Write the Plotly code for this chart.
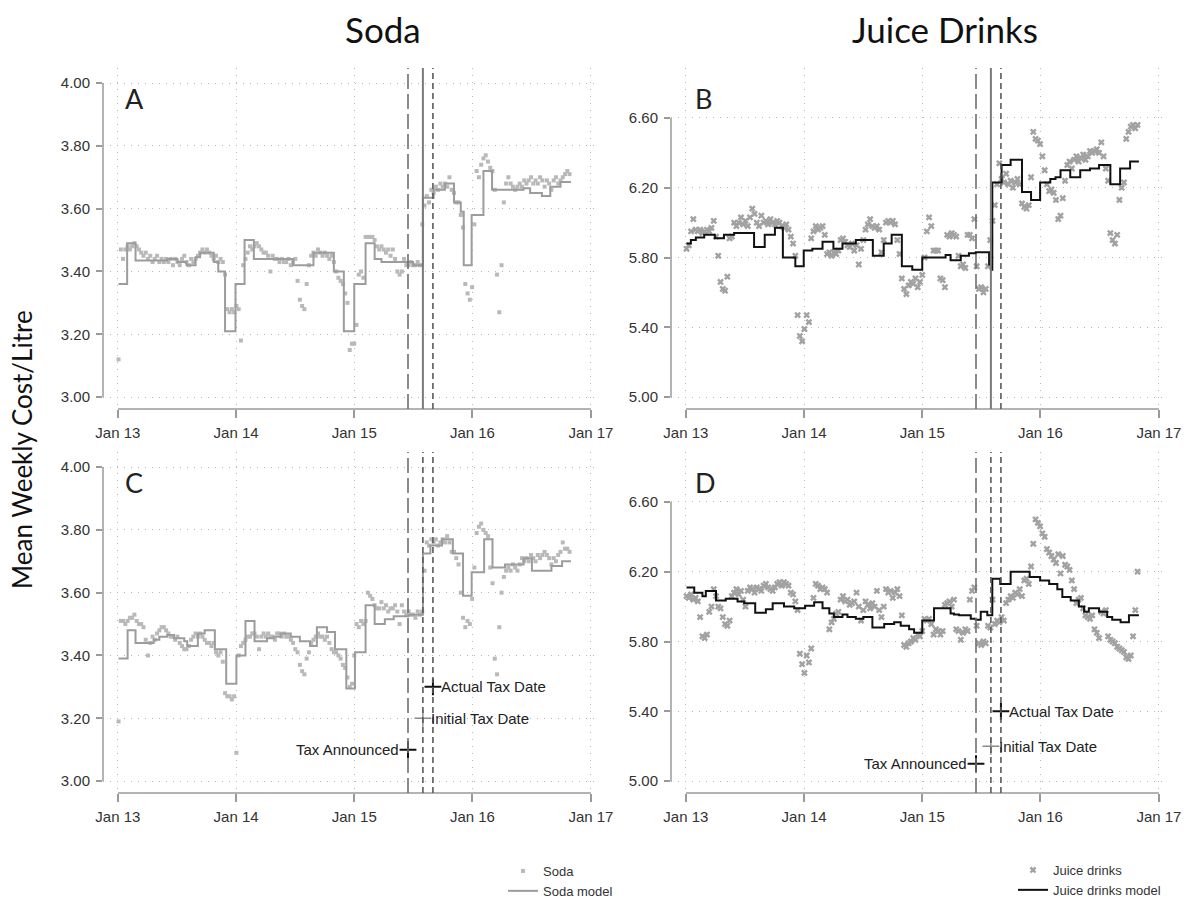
import numpy as np
import pandas as pd
import plotly.graph_objects as go

# ---------------------------------------------------------------- data
WEEK0 = "2013-01-03"          # first weekly observation

# Soda, mean weekly cost per litre (panel A)
soda_a = [
    3.12, 3.47, 3.44, 3.47, 3.48, 3.47, 3.48, 3.49, 3.48, 3.47,
    3.46, 3.45, 3.46, 3.44, 3.45, 3.43, 3.44, 3.45, 3.43, 3.44,
    3.43, 3.44, 3.43, 3.44, 3.42, 3.44, 3.43, 3.42, 3.44, 3.45,
    3.43, 3.42, 3.44, 3.43, 3.44, 3.45, 3.46, 3.47, 3.46, 3.47,
    3.46, 3.45, 3.44, 3.45, 3.43, 3.44, 3.43, 3.39, 3.28, 3.27,
    3.28, 3.27, 3.29, 3.28, 3.18, 3.42, 3.44, 3.46, 3.48, 3.47,
    3.48, 3.49, 3.48, 3.47, 3.46, 3.46, 3.45, 3.40, 3.45, 3.44,
    3.44, 3.43, 3.44, 3.43, 3.43, 3.44, 3.42, 3.43, 3.44, 3.37,
    3.31, 3.29, 3.28, 3.36, 3.42, 3.45, 3.46, 3.45, 3.47, 3.46,
    3.45, 3.46, 3.45, 3.44, 3.45, 3.43, 3.40, 3.38, 3.37, 3.36,
    3.33, 3.30, 3.15, 3.17, 3.17, 3.23, 3.39, 3.40, 3.38, 3.51,
    3.51, 3.51, 3.51, 3.50, 3.48, 3.47, 3.48, 3.47, 3.46, 3.47,
    3.45, 3.47, 3.44, 3.40, 3.39, 3.40, 3.44, 3.42, 3.42, 3.43,
    3.42, 3.42, 3.43, 3.42, 3.55, 3.61, 3.64, 3.62, 3.66, 3.65,
    3.67, 3.66, 3.68, 3.67, 3.68, 3.67, 3.70, 3.66, 3.65, 3.62,
    3.62, 3.58, 3.54, 3.36, 3.33, 3.31, 3.35, 3.55, 3.72, 3.70,
    3.74, 3.76, 3.77, 3.75, 3.73, 3.72, 3.66, 3.39, 3.27, 3.42,
    3.62, 3.68, 3.70, 3.68, 3.67, 3.66, 3.67, 3.68, 3.67, 3.69,
    3.68, 3.69, 3.70, 3.68, 3.69, 3.68, 3.70, 3.69, 3.67, 3.69,
    3.68, 3.66, 3.69, 3.70, 3.68, 3.69, 3.70, 3.71, 3.72, 3.71,
]
soda_a_model_week = [0, 3.8, 7.5, 21.5, 26, 30, 34, 36, 42, 44, 47, 51.6, 55.6, 59.7, 77, 86,
                     95, 99.4, 104, 109, 113, 116, 130, 134.3, 139, 144, 148, 151, 152.3,
                     155.8, 161, 164.8, 178.7, 181.6, 186.8, 190.5, 195, 199.6]
soda_a_model = [3.36, 3.49, 3.435, 3.44, 3.43, 3.42, 3.445, 3.46, 3.43, 3.40, 3.21, 3.36, 3.50,
                3.44, 3.42, 3.46, 3.40, 3.21, 3.36, 3.49, 3.44, 3.43, 3.42, 3.635, 3.66, 3.68,
                3.62, 3.59, 3.42, 3.58, 3.72, 3.66, 3.665, 3.65, 3.64, 3.67, 3.685, 3.685]

# Juice drinks (panel B)
juice_b = [
    5.85, 5.87, 5.95, 6.02, 5.96, 5.95, 5.96, 5.94, 5.95, 5.96,
    5.95, 5.97, 6.01, 5.92, 5.81, 5.66, 5.62, 5.61, 5.69, 5.91,
    5.92, 6.00, 5.98, 6.00, 6.03, 5.99, 6.01, 5.98, 6.03, 6.08,
    6.05, 6.00, 5.98, 6.04, 6.00, 6.01, 5.99, 6.02, 6.00, 5.99,
    6.01, 6.00, 5.98, 5.97, 5.99, 5.96, 5.92, 5.88, 5.81, 5.47,
    5.35, 5.32, 5.39, 5.47, 5.43, 5.91, 5.95, 5.98, 5.96, 5.97,
    5.98, 5.93, 5.82, 5.83, 5.81, 5.83, 5.82, 5.84, 5.90, 5.91,
    5.89, 5.87, 5.86, 5.88, 5.84, 5.87, 5.76, 5.85, 5.90, 5.96,
    5.99, 6.02, 5.98, 5.97, 5.98, 5.96, 5.83, 5.90, 6.00, 6.01,
    6.00, 6.01, 5.99, 5.90, 5.82, 5.68, 5.62, 5.59, 5.64, 5.66,
    5.65, 5.68, 5.63, 5.66, 5.70, 5.80, 5.95, 6.03, 5.98, 5.84,
    5.84, 5.84, 5.68, 5.67, 5.63, 5.93, 5.92, 5.94, 5.93, 5.92,
    5.81, 5.75, 5.76, 5.74, 5.93, 5.93, 5.91, 6.02, 5.75, 5.62,
    5.63, 5.60, 5.62, 5.75, 5.90, 6.01, 6.10, 6.22, 6.34, 6.25,
    6.23, 6.28, 6.22, 6.24, 6.20, 6.23, 6.25, 6.22, 6.11, 6.09,
    6.08, 6.10, 6.26, 6.52, 6.48, 6.47, 6.45, 6.38, 6.30, 6.22,
    6.18, 6.19, 6.17, 6.13, 6.02, 6.04, 6.14, 6.24, 6.33, 6.35,
    6.31, 6.36, 6.38, 6.35, 6.37, 6.39, 6.36, 6.38, 6.41, 6.40,
    6.41, 6.42, 6.40, 6.46, 6.38, 6.31, 6.24, 5.94, 5.90, 5.88,
    5.93, 6.13, 6.20, 6.23, 6.48, 6.52, 6.55, 6.56, 6.54, 6.56,
]
juice_b_model_week = [0, 1.9, 4.1, 7.8, 12.5, 16.5, 21, 29.8, 34.5, 39, 42.5, 48, 51.7, 55.5, 60,
                      64.8, 68.8, 74.7, 82.2, 87, 90.5, 95, 99.6, 104, 114.3, 116.5, 121, 124.6,
                      127.6, 133.5, 134.3, 134.9, 139, 143, 148, 152, 156, 160.5, 162.8, 165,
                      169.3, 173.7, 178, 182, 187, 191.3, 195.7, 199.6]
juice_b_model = [5.88, 5.90, 5.915, 5.93, 5.91, 5.93, 5.94, 5.86, 5.93, 5.97, 5.80, 5.75, 5.84,
                 5.85, 5.89, 5.85, 5.88, 5.90, 5.81, 5.88, 5.93, 5.75, 5.73, 5.80, 5.815, 5.785,
                 5.81, 5.825, 5.83, 5.76, 5.73, 6.23, 6.33, 6.36, 6.175, 6.13, 6.23, 6.25, 6.26,
                 6.30, 6.26, 6.30, 6.31, 6.33, 6.22, 6.31, 6.35, 6.35]

# Soda (panel C)
soda_c = [
    3.19, 3.51, 3.51, 3.50, 3.51, 3.52, 3.52, 3.53, 3.51, 3.50,
    3.50, 3.49, 3.45, 3.40, 3.44, 3.46, 3.45, 3.47, 3.48, 3.49,
    3.49, 3.48, 3.47, 3.46, 3.46, 3.45, 3.46, 3.44, 3.43, 3.42,
    3.42, 3.43, 3.45, 3.46, 3.47, 3.46, 3.47, 3.46, 3.45, 3.44,
    3.44, 3.43, 3.44, 3.41, 3.40, 3.41, 3.38, 3.28, 3.27, 3.27,
    3.26, 3.27, 3.09, 3.40, 3.43, 3.44, 3.45, 3.46, 3.46, 3.47,
    3.47, 3.46, 3.42, 3.46, 3.47, 3.46, 3.47, 3.46, 3.46, 3.45,
    3.47, 3.47, 3.46, 3.47, 3.46, 3.46, 3.45, 3.44, 3.42, 3.41,
    3.37, 3.35, 3.34, 3.39, 3.41, 3.44, 3.45, 3.46, 3.47, 3.46,
    3.46, 3.45, 3.46, 3.44, 3.42, 3.41, 3.41, 3.40, 3.39, 3.37,
    3.36, 3.33, 3.30, 3.31, 3.40, 3.50, 3.49, 3.51, 3.50, 3.51,
    3.60, 3.59, 3.58, 3.56, 3.55, 3.55, 3.57, 3.55, 3.56, 3.54,
    3.55, 3.55, 3.56, 3.54, 3.50, 3.56, 3.54, 3.53, 3.54, 3.53,
    3.53, 3.52, 3.54, 3.53, 3.54, 3.67, 3.76, 3.75, 3.77, 3.76,
    3.77, 3.75, 3.76, 3.77, 3.76, 3.78, 3.76, 3.73, 3.73, 3.71,
    3.69, 3.60, 3.52, 3.49, 3.51, 3.50, 3.58, 3.68, 3.79, 3.81,
    3.82, 3.80, 3.79, 3.78, 3.68, 3.63, 3.39, 3.34, 3.49, 3.60,
    3.65, 3.67, 3.68, 3.67, 3.69, 3.68, 3.67, 3.69, 3.71, 3.70,
    3.71, 3.70, 3.72, 3.71, 3.70, 3.72, 3.71, 3.72, 3.73, 3.72,
    3.71, 3.69, 3.71, 3.70, 3.72, 3.73, 3.76, 3.74, 3.74, 3.73,
]
soda_c_model_week = [0, 4, 7.5, 15.5, 18, 21.5, 24.5, 29, 30.3, 35, 38, 42.5, 47.5, 52, 56, 60,
                     65.5, 68.5, 71.5, 76, 80, 84.5, 87.5, 92, 95.5, 100.5, 104.3, 109, 113,
                     117.5, 121.4, 128, 134.3, 137.6, 142.7, 147.5, 152, 155.8, 161.3, 165,
                     170.5, 178.7, 182.4, 191, 195.7, 199.6]
soda_c_model = [3.39, 3.48, 3.44, 3.45, 3.46, 3.465, 3.455, 3.445, 3.43, 3.47, 3.48, 3.42, 3.31,
                3.40, 3.51, 3.445, 3.455, 3.46, 3.47, 3.46, 3.445, 3.43, 3.49, 3.475, 3.42,
                3.295, 3.41, 3.56, 3.50, 3.515, 3.525, 3.53, 3.725, 3.75, 3.77, 3.725, 3.59,
                3.665, 3.77, 3.68, 3.69, 3.71, 3.67, 3.685, 3.70, 3.70]

# Juice drinks (panel D)
juice_d = [
    6.06, 6.05, 6.07, 6.04, 6.05, 6.03, 5.94, 5.83, 5.82, 5.84,
    5.97, 6.00, 6.10, 6.06, 6.00, 5.99, 5.94, 5.90, 5.89, 5.92,
    6.06, 6.08, 6.10, 6.07, 6.09, 6.04, 6.00, 6.09, 6.11, 6.10,
    6.08, 6.11, 6.10, 6.09, 6.12, 6.13, 6.11, 6.10, 6.09, 6.11,
    6.13, 6.14, 6.12, 6.14, 6.13, 6.12, 6.08, 6.07, 6.03, 5.98,
    5.73, 5.67, 5.62, 5.72, 5.68, 5.76, 6.05, 6.13, 6.12, 6.10,
    6.11, 6.10, 6.08, 5.87, 5.91, 5.93, 5.96, 5.97, 6.04, 6.06,
    6.03, 6.04, 6.01, 6.02, 6.03, 6.08, 6.00, 5.92, 5.98, 6.03,
    6.01, 5.99, 6.02, 6.00, 6.09, 5.98, 5.94, 6.00, 6.10, 6.08,
    6.09, 6.05, 6.08, 6.10, 6.06, 5.95, 5.78, 5.77, 5.79, 5.80,
    5.82, 5.81, 5.84, 5.83, 5.86, 5.93, 5.92, 5.93, 5.90, 5.84,
    5.87, 5.86, 5.84, 5.86, 6.01, 6.02, 6.03, 6.00, 6.04, 5.87,
    5.86, 5.81, 5.85, 5.87, 5.86, 6.04, 6.09, 6.11, 5.89, 5.79,
    5.78, 5.80, 5.79, 5.89, 5.88, 6.04, 5.90, 5.92, 5.91, 5.94,
    5.92, 6.02, 6.04, 6.06, 6.05, 6.08, 6.07, 6.10, 6.06, 6.15,
    6.16, 6.13, 6.23, 6.36, 6.50, 6.48, 6.46, 6.42, 6.40, 6.33,
    6.31, 6.29, 6.27, 6.25, 6.30, 6.19, 6.29, 6.24, 6.23, 6.21,
    6.15, 6.10, 6.02, 6.04, 6.05, 5.99, 5.95, 5.94, 5.93, 5.95,
    5.87, 5.85, 5.82, 5.97, 5.96, 5.98, 5.83, 5.81, 5.80, 5.79,
    5.77, 5.76, 5.75, 5.74, 5.71, 5.70, 5.72, 5.83, 5.98, 6.20,
]
juice_d_model_week = [0, 3.4, 7, 8.5, 13, 17.3, 22.5, 25.4, 30.3, 35, 38, 43, 47.5, 52.3, 56.3,
                      60, 63, 65, 68.8, 71, 74.7, 78, 82, 87.2, 91.6, 94.5, 98.2, 100.4, 104,
                      109.2, 116.5, 118, 120.2, 125.4, 127.6, 129.8, 132.7, 134.9, 138.4, 143,
                      151.4, 156, 160, 163.6, 165.8, 169.5, 173.1, 175.4, 177.5, 182, 185.6,
                      187.8, 191.5, 195.2, 199.6]
juice_d_model = [6.11, 6.08, 6.06, 6.09, 6.035, 6.045, 6.03, 6.02, 5.965, 5.985, 6.02, 6.00,
                 5.99, 6.005, 6.025, 5.99, 5.96, 5.94, 5.955, 5.94, 5.93, 5.94, 5.88, 5.90, 5.91,
                 5.89, 5.87, 5.85, 5.92, 5.99, 5.96, 5.955, 5.95, 5.93, 5.925, 5.97, 5.95, 6.16,
                 6.13, 6.20, 6.17, 6.15, 6.13, 6.10, 6.055, 6.035, 6.00, 5.97, 5.99, 5.97, 5.94,
                 5.925, 5.91, 5.95, 5.95]

# policy dates
tax_announced = "2015-06-16"
tax_initial = "2015-08-01"
tax_actual = "2015-09-01"

year_ticks = ["2013-01-01", "2014-01-01", "2015-01-01", "2016-01-01", "2017-01-01"]
year_labels = ["Jan 13", "Jan 14", "Jan 15", "Jan 16", "Jan 17"]
soda_ticks = [3.0, 3.2, 3.4, 3.6, 3.8, 4.0]
soda_labels = ["3.00", "3.20", "3.40", "3.60", "3.80", "4.00"]
juice_ticks = [5.0, 5.4, 5.8, 6.2, 6.6]
juice_labels = ["5.00", "5.40", "5.80", "6.20", "6.60"]

# marker labels in the lower panels: (date, soda value, juice value, text)
marks = [
    (tax_announced, 3.10, 5.10, "Tax Announced"),
    (tax_initial, 3.20, 5.20, "Initial Tax Date"),
    (tax_actual, 3.30, 5.40, "Actual Tax Date"),
]

# ---------------------------------------------------------------- helpers
start = pd.Timestamp(WEEK0)


def week_dates(weeks):
    return start + pd.to_timedelta(np.asarray(weeks, dtype=float) * 7, unit="D")


W = 1192
H = 902
px_x = lambda p: p / W
px_y = lambda p: 1 - p / H

X_RANGE = ["2012-11-16", "2017-01-29"]
SODA_RANGE = [2.962, 4.048]
JUICE_RANGE = [4.932, 6.886]

TICK_FONT = dict(family="Liberation Sans, Arial, sans-serif", size=15, color="#333333")
GRID = dict(showgrid=True, gridcolor="#b8b8b8", griddash="1px,6px", gridwidth=1.2,
            zeroline=False, automargin=False)

SODA_PT = "#b9b9b9"
SODA_LINE = "#9c9c9c"
JUICE_PT = "#a2a2a2"
JUICE_LINE = "#111111"
AXIS_GREY = "#9a9a9a"

fig = go.Figure()

panels = [
    # axis suffix, kind, values, model weeks, model values, letter
    ("", "soda", soda_a, soda_a_model_week, soda_a_model, "A"),
    ("2", "juice", juice_b, juice_b_model_week, juice_b_model, "B"),
    ("3", "soda", soda_c, soda_c_model_week, soda_c_model, "C"),
    ("4", "juice", juice_d, juice_d_model_week, juice_d_model, "D"),
]

col_dom = [(px_x(103), px_x(600)), (px_x(671), px_x(1168))]
row_dom = [(px_y(409), px_y(68)), (px_y(793), px_y(452))]

shapes = []
annotations = []

for idx, (sfx, kind, vals, mw, mv, letter) in enumerate(panels):
    row, col = divmod(idx, 2)
    xa, ya = "x" + sfx, "y" + sfx
    in_legend = idx < 2
    soda = kind == "soda"

    dates = week_dates(range(len(vals)))
    fig.add_trace(go.Scatter(
        x=dates, y=vals, mode="markers", xaxis=xa, yaxis=ya,
        name="Soda" if soda else "Juice drinks",
        marker=dict(symbol="square" if soda else "x",
                    size=4 if soda else 6,
                    color=SODA_PT if soda else JUICE_PT,
                    line=dict(width=0)),
        showlegend=in_legend,
        legend="legend" if soda else "legend2",
        cliponaxis=False,
    ))
    fig.add_trace(go.Scatter(
        x=week_dates(mw), y=mv, mode="lines", line_shape="hv", xaxis=xa, yaxis=ya,
        name="Soda model" if soda else "Juice drinks model",
        line=dict(color=SODA_LINE if soda else JUICE_LINE, width=2),
        showlegend=in_legend,
        legend="legend" if soda else "legend2",
    ))

    ticks = soda_ticks if soda else juice_ticks
    labels = soda_labels if soda else juice_labels
    fig.layout["xaxis" + sfx] = dict(
        domain=col_dom[col], anchor=ya, range=X_RANGE, type="date",
        tickvals=year_ticks, ticktext=year_labels, ticks="outside", ticklen=8,
        tickwidth=1.5, tickcolor=AXIS_GREY, tickfont=TICK_FONT, ticklabelstandoff=2,
        showline=False, **GRID)
    fig.layout["yaxis" + sfx] = dict(
        domain=row_dom[row], anchor=xa, range=SODA_RANGE if soda else JUICE_RANGE,
        tickvals=ticks, ticktext=labels, ticks="outside", ticklen=6, tickwidth=1.5,
        tickcolor=AXIS_GREY, tickfont=TICK_FONT, ticklabelstandoff=3,
        showline=False, **GRID)

    # axis lines spanning the labelled range only
    shapes.append(dict(type="line", xref=xa + " domain", yref=ya, x0=0, x1=0,
                       y0=ticks[0], y1=ticks[-1], line=dict(color=AXIS_GREY, width=1.5)))
    shapes.append(dict(type="line", xref=xa, yref=ya + " domain", x0=year_ticks[0],
                       x1=year_ticks[-1], y0=0, y1=0, line=dict(color=AXIS_GREY, width=1.5)))

    # policy date lines
    shapes.append(dict(type="line", xref=xa, yref=ya + " domain", x0=tax_announced,
                       x1=tax_announced, y0=0, y1=1,
                       line=dict(color="#6e6e6e", width=1.6, dash="15px,5px")))
    if row == 0:
        shapes.append(dict(type="line", xref=xa, yref=ya + " domain", x0=tax_initial,
                           x1=tax_initial, y0=0, y1=1,
                           line=dict(color="#7a7a7a", width=2)))
    else:
        shapes.append(dict(type="line", xref=xa, yref=ya + " domain", x0=tax_initial,
                           x1=tax_initial, y0=0, y1=1,
                           line=dict(color="#5a5a5a", width=1.6, dash="6px,4px")))
    shapes.append(dict(type="line", xref=xa, yref=ya + " domain", x0=tax_actual,
                       x1=tax_actual, y0=0, y1=1,
                       line=dict(color="#5a5a5a", width=1.6, dash="6px,4px")))

    # panel letter
    annotations.append(dict(text=letter, xref=xa + " domain", yref=ya + " domain",
                            x=0.04 if col == 0 else 0.045, y=0.91, xanchor="left",
                            yanchor="middle", showarrow=False,
                            font=dict(family="Lato, sans-serif", size=27, color="#222222")))

    # markers for the policy dates in the lower panels
    if row == 1:
        for j, (d, sv, jv, txt) in enumerate(marks):
            yv = sv if soda else jv
            grey = j == 1
            fig.add_trace(go.Scatter(
                x=[d], y=[yv], mode="markers", xaxis=xa, yaxis=ya, showlegend=False,
                marker=dict(symbol="cross-thin", size=12,
                            line=dict(color="#8a8a8a" if grey else "#111111",
                                      width=1.4 if grey else 2)),
            ))
            left = j == 0
            annotations.append(dict(
                text=txt, x=d, y=yv, xref=xa, yref=ya, showarrow=False,
                xanchor="right" if left else "left", xshift=-7 if left else 6,
                yanchor="middle",
                font=dict(family="Liberation Sans, Arial, sans-serif", size=15,
                          color="#222222")))

# column titles and shared y title
annotations.append(dict(text="Soda", xref="paper", yref="paper", x=px_x(383), y=px_y(29),
                        showarrow=False, xanchor="center", yanchor="middle",
                        font=dict(family="Lato, sans-serif", size=35, color="#111111")))
annotations.append(dict(text="Juice Drinks", xref="paper", yref="paper", x=px_x(945),
                        y=px_y(29), showarrow=False, xanchor="center", yanchor="middle",
                        font=dict(family="Lato, sans-serif", size=35, color="#111111")))
annotations.append(dict(text="Mean Weekly Cost/Litre", xref="paper", yref="paper",
                        x=px_x(22), y=px_y(450), textangle=-90, showarrow=False,
                        xanchor="center", yanchor="middle",
                        font=dict(family="Lato, sans-serif", size=26, color="#111111")))

LEG_FONT = dict(family="Liberation Sans, Arial, sans-serif", size=13, color="#333333")
fig.update_layout(
    width=W, height=H,
    margin=dict(l=0, r=0, t=0, b=0, autoexpand=False),
    paper_bgcolor="white", plot_bgcolor="white",
    shapes=shapes, annotations=annotations,
    legend=dict(x=px_x(503), y=px_y(856), xanchor="left", yanchor="top",
                font=LEG_FONT, bgcolor="rgba(0,0,0,0)", itemwidth=30,
                tracegroupgap=0),
    legend2=dict(x=px_x(1013), y=px_y(855), xanchor="left", yanchor="top",
                 font=LEG_FONT, bgcolor="rgba(0,0,0,0)", itemwidth=30,
                 tracegroupgap=0),
)

fig.write_html("out.html")
